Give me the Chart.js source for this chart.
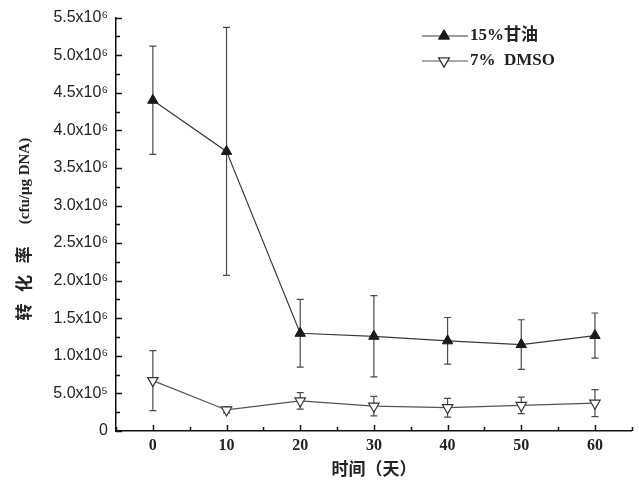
<!DOCTYPE html>
<html>
<head>
<meta charset="utf-8">
<script src="https://cdn.jsdelivr.net/npm/chart.js@4/dist/chart.umd.min.js"></script>
<style>
  html, body { margin: 0; padding: 0; background: #fff; }
  #wrap { width: 639px; height: 483px; }
</style>
</head>
<body>
<div id="wrap"><canvas id="myChart" width="639" height="483"></canvas></div>
<script>
// 数据 (x 轴: 天, y 轴: cfu/μg DNA)
const days = [0, 10, 20, 30, 40, 50, 60];
const glycerol = [4.40e6, 3.72e6, 1.30e6, 1.26e6, 1.20e6, 1.15e6, 1.27e6];
const glycerolErr = [0.72e6, 1.65e6, 0.45e6, 0.54e6, 0.31e6, 0.33e6, 0.30e6];
const dmso = [0.67e6, 0.28e6, 0.40e6, 0.33e6, 0.31e6, 0.34e6, 0.37e6];
const dmsoErr = [0.40e6, 0.04e6, 0.11e6, 0.13e6, 0.125e6, 0.11e6, 0.18e6];
const seriesNames = ['15%甘油', '7%  DMSO'];
const xTicks = [0, 10, 20, 30, 40, 50, 60];
const yTickLabels = ['0', '5.0x10⁵', '1.0x10⁶', '1.5x10⁶', '2.0x10⁶', '2.5x10⁶', '3.0x10⁶',
                     '3.5x10⁶', '4.0x10⁶', '4.5x10⁶', '5.0x10⁶', '5.5x10⁶'];

const toPoints = (ys) => days.map((d, i) => ({ x: d, y: ys[i] }));

// 误差棒
const errorBars = {
    id: 'errorBars',
    beforeDatasetsDraw(chart) {
        const ctx = chart.ctx;
        const xs = chart.scales.x, ys = chart.scales.y;
        const errs = [glycerolErr, dmsoErr];
        ctx.save();
        ctx.strokeStyle = '#4a4a4a';
        ctx.lineWidth = 1.2;
        chart.data.datasets.forEach((ds, k) => {
            ds.data.forEach((p, i) => {
                const px = xs.getPixelForValue(p.x);
                const top = ys.getPixelForValue(p.y + errs[k][i]);
                const bot = ys.getPixelForValue(p.y - errs[k][i]);
                ctx.beginPath();
                ctx.moveTo(px, top); ctx.lineTo(px, bot);
                ctx.moveTo(px - 3.5, top); ctx.lineTo(px + 3.5, top);
                ctx.moveTo(px - 3.5, bot); ctx.lineTo(px + 3.5, bot);
                ctx.stroke();
            });
        });
        ctx.restore();
    }
};

// 向内刻度, y 轴标题, 图例
const decorations = {
    id: 'decorations',
    afterDraw(chart) {
        const ctx = chart.ctx;
        const xs = chart.scales.x, ys = chart.scales.y;
        const area = chart.chartArea;
        ctx.save();
        ctx.strokeStyle = '#111';
        ctx.lineWidth = 1.5;
        for (let v = 0; v <= 5.5e6 + 1; v += 0.25e6) {
            const py = Math.round(ys.getPixelForValue(v)) + 0.5;
            const len = (Math.round(v / 0.25e6) % 2 === 0) ? 6 : 4;
            ctx.beginPath();
            ctx.moveTo(area.left, py); ctx.lineTo(area.left + len, py);
            ctx.stroke();
        }
        for (let v = -5; v <= 65; v += 5) {
            const px = Math.round(xs.getPixelForValue(v)) + 0.5;
            const len = (v % 10 === 0) ? 6 : 4;
            ctx.beginPath();
            ctx.moveTo(px, area.bottom); ctx.lineTo(px, area.bottom - len);
            ctx.stroke();
        }

        // y 轴标题 (逐字放置)
        ctx.translate(24, 0);
        ctx.rotate(-Math.PI / 2);
        ctx.fillStyle = '#222';
        ctx.textBaseline = 'middle';
        ctx.textAlign = 'center';
        ctx.font = 'bold 17px "Noto Sans CJK SC"';
        ['转', '化', '率'].forEach((ch, i) => {
            ctx.fillText(ch, -(312 - i * 28.5), 0);
        });
        ctx.font = 'bold 15px "Liberation Serif"';
        ctx.fillText('(cfu/μg DNA)', -181, 1);
        ctx.setTransform(1, 0, 0, 1, 0, 0);
        ctx.textAlign = 'left';

        // 图例
        const rows = [36, 61];
        chart.data.datasets.forEach((ds, k) => {
            const y = rows[k];
            ctx.strokeStyle = ds.borderColor;
            ctx.lineWidth = 1.2;
            ctx.beginPath();
            ctx.moveTo(422, y); ctx.lineTo(468, y);
            ctx.stroke();
            Chart.helpers.drawPoint(ctx, {
                pointStyle: 'triangle',
                radius: ds.pointRadius,
                rotation: ds.pointRotation,
                borderWidth: ds.pointBorderWidth
            }, 444, y);
            ctx.fillStyle = ds.pointBackgroundColor;
            ctx.strokeStyle = ds.pointBorderColor;
            ctx.lineWidth = ds.pointBorderWidth;
            ctx.fill();
            ctx.stroke();
            ctx.fillStyle = '#222';
            ctx.font = 'bold 17px "Liberation Serif", "Noto Sans CJK SC"';
            ctx.textBaseline = 'middle';
            ctx.fillText(seriesNames[k], 470, y);
        });
        ctx.restore();
    }
};

const ctx = document.getElementById('myChart').getContext('2d');
const myChart = new Chart(ctx, {
    type: 'line',
    data: {
        datasets: [{
            label: seriesNames[0],
            data: toPoints(glycerol),
            borderColor: '#3a3a3a',
            borderWidth: 1.2,
            pointStyle: 'triangle',
            pointRadius: 6,
            pointRotation: 0,
            pointBackgroundColor: '#1a1a1a',
            pointBorderColor: '#1a1a1a',
            pointBorderWidth: 1,
            tension: 0
        }, {
            label: seriesNames[1],
            data: toPoints(dmso),
            borderColor: '#555',
            borderWidth: 1.2,
            pointStyle: 'triangle',
            pointRadius: 6,
            pointRotation: 180,
            pointBackgroundColor: '#fff',
            pointBorderColor: '#333',
            pointBorderWidth: 1.2,
            tension: 0
        }]
    },
    options: {
        responsive: false,
        animation: false,
        layout: { padding: { top: 15, right: 2, left: 0, bottom: 0 } },
        plugins: {
            legend: { display: false },
            tooltip: { enabled: false }
        },
        scales: {
            x: {
                type: 'linear',
                min: -5,
                max: 65,
                afterBuildTicks: (scale) => { scale.ticks = xTicks.map(v => ({ value: v })); },
                grid: { display: false, drawTicks: false },
                border: { display: true, color: '#111', width: 1.5 },
                ticks: {
                    padding: 5,
                    color: '#222',
                    font: { family: '"Liberation Serif"', size: 16, weight: 'bold' }
                },
                title: {
                    display: true,
                    text: '时间（天）',
                    color: '#222',
                    font: { family: '"Noto Sans CJK SC"', size: 17, weight: 'bold' },
                    padding: { top: 0, bottom: 4 }
                },
                afterFit: (scale) => { scale.height = 52; }
            },
            y: {
                min: 0,
                max: 5.5e6,
                ticks: {
                    stepSize: 0.5e6,
                    padding: 8,
                    color: '#222',
                    font: { family: '"Liberation Sans"', size: 16 },
                    callback: (v) => yTickLabels[Math.round(v / 0.5e6)]
                },
                grid: { display: false, drawTicks: false },
                border: { display: true, color: '#111', width: 1.5 },
                afterFit: (scale) => { scale.width = 116; }
            }
        }
    },
    plugins: [errorBars, decorations]
});
</script>
</body>
</html>
